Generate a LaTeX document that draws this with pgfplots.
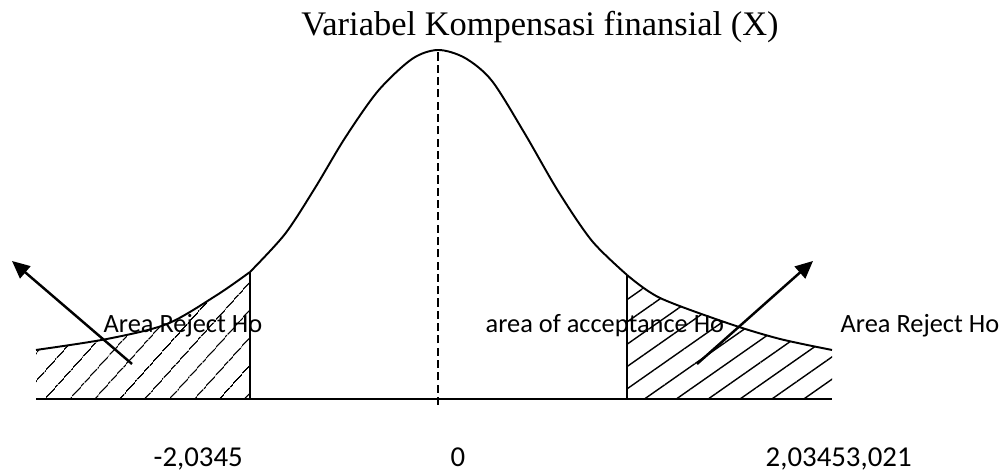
\documentclass[border=0pt]{standalone}
\usepackage{fontspec}
\setmainfont{Liberation Serif}
\newfontfamily\calib{Carlito}
\usepackage{pgfplots}
\pgfplotsset{compat=1.18}
\usetikzlibrary{arrows.meta,patterns.meta}

% curve: x in pixels, y = height above the baseline
\pgfplotstableread{
x y
36 49
107 60
167 75
217 104
250 127
}\lefttail
\pgfplotstableread{
x y
250 127
285 165
315 211
345 261
378 308
412 340
438 349
465 341
492 318
525 265
558 208
592 158
627 124
}\middle
\pgfplotstableread{
x y
627 124
660 101
730 75
780 60
832 49
}\righttail

\begin{document}
\begin{tikzpicture}
\begin{axis}[
  hide axis, scale only axis,
  width=10.03cm, height=4.70cm,
  xmin=0, xmax=1003, ymin=-72, ymax=398,
  clip=false,
]
% rejection areas
\addplot[draw=none, pattern={Lines[angle=48,distance=5.4pt,line width=0.4pt]}, smooth]
  table {\lefttail} \closedcycle;
\addplot[draw=none, pattern={Lines[angle=35,distance=5.2pt,line width=0.4pt]}, smooth]
  table {\righttail} \closedcycle;
% bell curve in three pieces
\addplot[black, line width=0.55pt, smooth] table {\lefttail};
\addplot[black, line width=0.55pt, smooth] table {\middle};
\addplot[black, line width=0.55pt, smooth] table {\righttail};
\addplot[black, line width=0.55pt] coordinates {(36,0)(832,0)};
% critical values and centre
\addplot[black, line width=0.5pt] coordinates {(250,0)(250,127)};
\addplot[black, line width=0.5pt] coordinates {(627,0)(627,124)};
\addplot[black, line width=0.45pt, dash pattern=on 2.3pt off 1.2pt] coordinates {(438,-6)(438,349)};
% arrows
\addplot[black, line width=0.7pt, -{Triangle[length=5pt,width=4.5pt]}] coordinates {(132,35)(12,138)};
\addplot[black, line width=0.7pt, -{Triangle[length=5pt,width=4.5pt]}] coordinates {(697,35)(813,138)};
% texts
\node[anchor=base, font=\fontsize{9.8}{11}\selectfont] at (axis cs:540,363) {Variabel Kompensasi finansial (X)};
\node[anchor=base west, inner sep=0pt, font=\calib\fontsize{7.5}{9}\selectfont] at (axis cs:103,66) {Area Reject Ho};
\node[anchor=base west, inner sep=0pt, font=\calib\fontsize{7.5}{9}\selectfont] at (axis cs:485,66) {area of acceptance Ho};
\node[anchor=base west, inner sep=0pt, font=\calib\fontsize{7.5}{9}\selectfont] at (axis cs:840,66) {Area Reject Ho};
\node[anchor=base west, inner sep=0pt, font=\calib\fontsize{8.2}{10}\selectfont] at (axis cs:153,-68) {-2,0345};
\node[anchor=base, inner sep=0pt, font=\calib\fontsize{8.2}{10}\selectfont] at (axis cs:458,-68) {0};
\node[anchor=base west, inner sep=0pt, font=\calib\fontsize{8.2}{10}\selectfont] at (axis cs:765,-68) {2,03453,021};
\path (axis cs:0,-72) rectangle (axis cs:1003,398);
\end{axis}
\end{tikzpicture}
\end{document}
